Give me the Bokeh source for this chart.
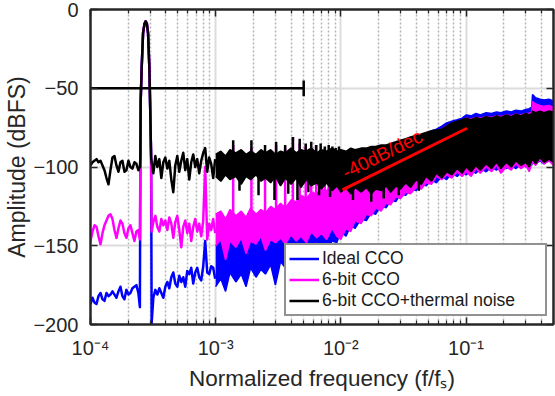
from bokeh.plotting import figure
from bokeh.models import FixedTicker, LogAxis, LinearAxis, Legend, LegendItem, Range1d, CustomJSTickFormatter
from bokeh.core.properties import value
from bokeh.embed import file_html
from bokeh.resources import INLINE

FONT = "Liberation Sans"
TXT = "#262626"
BLUE = "#0000ff"
MAGENTA = "#ff00ff"
BLACK = "#000000"

# ---------------- data ----------------
# sparse low-frequency part (including the signal tone), shared frequency axis
LOW_F = [
    1.000e-4, 1.037e-4, 1.076e-4, 1.117e-4, 1.158e-4, 1.202e-4, 1.247e-4, 1.293e-4, 1.342e-4, 1.392e-4,
    1.444e-4, 1.498e-4, 1.554e-4, 1.612e-4, 1.672e-4, 1.735e-4, 1.799e-4, 1.867e-4, 1.936e-4, 2.009e-4,
    2.084e-4, 2.162e-4, 2.243e-4, 2.326e-4, 2.413e-4, 2.481e-4,
    2.503e-4, 2.517e-4, 2.564e-4, 2.630e-4, 2.700e-4, 2.758e-4, 2.820e-4, 2.883e-4, 2.953e-4, 2.991e-4, 3.050e-4,
    3.080e-4, 3.177e-4, 3.296e-4, 3.420e-4, 3.548e-4, 3.680e-4, 3.818e-4, 3.960e-4, 4.109e-4, 4.262e-4,
    4.422e-4, 4.587e-4, 4.758e-4, 4.936e-4, 5.121e-4, 5.312e-4, 5.510e-4, 5.716e-4, 5.930e-4, 6.151e-4,
    6.381e-4, 6.620e-4, 6.867e-4, 7.124e-4, 7.390e-4, 7.666e-4, 7.953e-4, 8.250e-4, 8.558e-4, 8.878e-4,
    9.210e-4, 9.552e-4, 9.909e-4,
]
BLUE_LOW = [
    -187, -183, -186, -187, -182, -180, -184, -185, -180, -182,
    -181, -179, -181, -183, -179, -176, -182, -184, -178, -181,
    -180, -177, -176, -175, -180, -189,
    -94, -58, -37, -15, -9, -7.5, -9, -15, -37, -58, -94,
    -199, -183, -178, -181, -177, -180, -183, -176, -173, -177,
    -170, -167, -174, -176, -169, -173, -170, -176, -166, -168,
    -164, -174, -167, -164, -170, -172, -163, -147, -167, -168,
    -163, -164, -171,
]
MAG_LOW = [
    -147, -141, -137, -138, -144, -149, -142, -137, -134, -131,
    -130, -133, -140, -145, -139, -134, -136, -142, -145, -139,
    -137, -142, -147, -141, -140, -146,
    -94, -58, -37, -15, -9, -7.5, -9, -15, -37, -58, -94,
    -141, -135, -131, -138, -141, -133, -137, -134, -140, -132,
    -136, -145, -135, -131, -140, -151, -138, -134, -142, -136,
    -147, -138, -133, -141, -136, -144, -134, -100, -146, -136,
    -140, -133, -142,
]
BLK_LOW = [
    -99, -97, -96, -95, -97, -96, -99, -102, -107, -111,
    -102, -94, -93, -99, -103, -97, -96, -103, -102, -96,
    -100, -101, -97, -98, -102, -100,
    -94, -58, -37, -15, -9, -7.5, -9, -15, -37, -58, -94,
    -97, -104, -93, -100, -95, -107, -97, -94, -101, -96,
    -108, -116, -99, -93, -103, -96, -91, -102, -95, -108,
    -97, -92, -100, -95, -104, -96, -91, -88, -103, -94,
    -98, -107, -95,
]

# dense part: envelope of each noisy trace
BAND_F = [
    1.0e-3, 1.1e-3, 1.2e-3, 1.3e-3, 1.45e-3, 1.6e-3, 1.75e-3, 1.9e-3, 2.1e-3, 2.3e-3,
    2.5e-3, 2.75e-3, 3.0e-3, 3.3e-3, 3.6e-3, 4.0e-3, 4.4e-3, 4.8e-3, 5.3e-3, 5.8e-3,
    6.4e-3, 7.0e-3, 7.7e-3, 8.5e-3, 9.3e-3,
    1.0e-2, 1.1e-2, 1.2e-2, 1.3e-2, 1.45e-2, 1.6e-2, 1.75e-2, 1.9e-2, 2.1e-2, 2.3e-2,
    2.5e-2, 2.75e-2, 3.0e-2, 3.3e-2, 3.6e-2, 4.0e-2, 4.4e-2, 4.8e-2, 5.3e-2, 5.8e-2,
    6.4e-2, 7.0e-2, 7.7e-2, 8.5e-2, 9.3e-2,
    0.10, 0.11, 0.12, 0.13, 0.145, 0.16, 0.175, 0.19, 0.21, 0.23,
    0.25, 0.275, 0.30, 0.32, 0.335, 0.34, 0.36, 0.39, 0.42, 0.46, 0.50,
]
BLUE_HI = [
    -150, -147, -151, -144, -149, -145, -146, -141, -147, -142,
    -143, -139, -142, -137, -138, -134, -136, -131, -132, -128,
    -129, -125, -125, -121, -122,
    -114, -112, -110, -107, -105, -102, -100, -98, -96, -94,
    -92, -90, -88, -86, -84, -82, -80, -79, -77, -76,
    -74, -72, -71, -70, -69,
    -67, -67.5, -66, -67, -65.5, -66, -65, -65.5, -64.5, -65,
    -64, -64.5, -63.5, -63, -62, -54, -56, -57, -57.5, -57, -58,
]
BLUE_LO = [
    -176, -171, -179, -167, -173, -168, -176, -164, -170, -165,
    -168, -162, -175, -160, -164, -159, -161, -156, -160, -152,
    -155, -151, -153, -147, -148,
    -141, -144, -137, -139, -133, -134, -129, -130, -124, -126,
    -121, -122, -117, -118, -114, -115, -110, -112, -108, -110,
    -106, -108, -104, -106, -103,
    -105, -102, -104, -101, -103, -100, -102, -99, -101, -99,
    -101, -98, -100, -98, -99, -96, -98, -96, -98, -96, -98,
]
MAG_HI = [
    -130, -128, -133, -127, -131, -128, -132, -126, -130, -127,
    -129, -125, -127, -123, -126, -121, -122, -118, -120, -116,
    -117, -114, -115, -111, -111,
    -108, -107, -105, -104, -102, -100, -99, -97, -96, -94,
    -93, -91, -90, -88, -86, -84, -82, -81, -79, -78,
    -76, -74, -73, -72, -71,
    -69, -69.5, -68.5, -69, -68, -68.5, -67.5, -68, -67, -67.5,
    -66.5, -67, -66, -66, -65, -58.5, -60, -61, -61.5, -61, -62,
]
MAG_LO = [
    -150, -146, -159, -147, -151, -145, -155, -147, -149, -144,
    -153, -146, -148, -145, -149, -143, -147, -144, -148, -141,
    -145, -142, -146, -139, -144,
    -146, -139, -141, -134, -136, -130, -131, -126, -128, -123,
    -124, -119, -120, -116, -117, -113, -114, -110, -111, -106,
    -108, -105, -107, -103, -106,
    -103, -106, -101, -104, -100, -103, -99, -104, -100, -102,
    -98, -101, -99, -103, -98, -97, -99, -95, -98, -96, -99,
]
BLK_HI = [
    -92, -90, -93, -89, -91, -89, -92, -90, -92, -89,
    -91, -89, -92, -90, -91, -88, -91, -89, -90, -88,
    -91, -89, -90, -88, -90,
    -89, -90, -88, -89, -88, -88, -87, -87, -86, -86,
    -85, -84, -83, -82, -81, -80, -79, -78, -77, -76.5,
    -76, -74, -72, -71, -70,
    -69, -70, -68.5, -69.5, -68, -69, -67.5, -68.5, -67, -68,
    -66.5, -67.5, -66, -67, -66, -64.5, -65.5, -64.5, -65.5, -64.5, -65,
]
BLK_LO = [
    -106, -109, -105, -108, -106, -111, -106, -108, -105, -109,
    -107, -110, -106, -112, -107, -111, -107, -113, -108, -112,
    -110, -114, -110, -115, -112,
    -116, -113, -117, -113, -116, -113, -117, -114, -115, -112,
    -116, -112, -114, -110, -113, -108, -111, -106, -109, -104,
    -107, -103, -105, -101, -104,
    -100, -103, -99, -102, -98, -101, -97, -101, -97, -100,
    -96, -99, -97, -100, -96, -95, -98, -94, -97, -95, -97,
]

# harmonic spurs of the 6-bit quantiser
SPUR_F = [1.38e-3, 1.93e-3, 2.48e-3, 3.04e-3, 3.59e-3, 4.14e-3, 4.69e-3, 5.24e-3,
          5.80e-3, 6.35e-3, 6.90e-3, 7.45e-3, 8.00e-3, 8.56e-3, 9.10e-3, 9.66e-3]
MAG_SPUR = [-86, -88, -90, -86, -88, -81, -85, -87, -88, -86, -89, -88, -90, -89, -91, -90]
BLK_SPUR = [-83, -83, -86, -84, -86, -81, -82, -85, -84, -86, -85, -87, -86, -87, -88, -87]
BLUE_SPUR_F = [1.38e-3]
BLUE_SPUR = [-134]
BLK_DIP_F = [1.55e-3, 2.2e-3, 2.95e-3, 3.8e-3, 4.5e-3, 5.5e-3, 6.7e-3, 8.2e-3,
             1.25e-2, 1.75e-2, 2.2e-2, 2.9e-2, 4.2e-2]
BLK_DIP = [-115, -118, -121, -117, -121, -116, -118, -119, -121, -122, -120, -118, -115]

# annotations
MARK_F = [1e-4, 5.05e-3]
MARK_DB = [-50, -50]
MARK_CAP = [-45, -55]
SLOPE_F = [0.0103, 0.102]
SLOPE_DB = [-114.5, -75.4]
SLOPE_TXT_F = 0.0105
SLOPE_TXT_DB = -104.0
SLOPE_TXT = "-40dB/dec"

X_MAJOR = [1e-4, 1e-3, 1e-2, 1e-1]
X_LABELS = ["10\u207b\u2074", "10\u207b\u00b3", "10\u207b\u00b2", "10\u207b\u00b9"]
X_MINOR = [m * d for d in X_MAJOR for m in range(2, 10) if m * d <= 0.5]
Y_TICKS = [-200, -150, -100, -50, 0]
SERIES = ["Ideal CCO", "6-bit CCO", "6-bit CCO+thermal noise"]

# ---------------- figure ----------------
p = figure(width=555, height=396, x_axis_type="log",
           x_range=Range1d(1e-4, 0.5), y_range=Range1d(-200, 0),
           output_backend="svg", toolbar_location=None,
           min_border_left=90, min_border_right=2, min_border_top=9, min_border_bottom=72)
p.background_fill_color = "white"
p.border_fill_color = "white"
p.outline_line_color = TXT
p.outline_line_width = 2

xt = FixedTicker(ticks=X_MAJOR, minor_ticks=X_MINOR)
yt = FixedTicker(ticks=Y_TICKS)

def style_axis(ax, labels=True):
    ax.axis_line_color = TXT
    ax.axis_line_width = 2
    ax.major_tick_in = 7
    ax.major_tick_out = 0
    ax.minor_tick_in = 4
    ax.minor_tick_out = 0
    ax.major_tick_line_color = TXT
    ax.minor_tick_line_color = TXT
    ax.major_tick_line_width = 1.5
    ax.minor_tick_line_width = 1.2
    ax.major_label_text_font = FONT
    ax.major_label_text_color = TXT
    if labels:
        ax.major_label_text_font_size = "20px"
    else:
        ax.formatter = CustomJSTickFormatter(code="return ''")
        ax.major_label_text_font_size = "1px"
        ax.major_label_standoff = 0

xa = p.below[0]
xa.ticker = xt
xa.major_label_overrides = dict(zip(X_MAJOR, X_LABELS))
style_axis(xa)
xa.major_label_standoff = 12
xa.axis_label = "Normalized frequency (f/f\u209b)"
xa.axis_label_text_font = FONT
xa.axis_label_text_font_size = "22.5px"
xa.axis_label_text_font_style = "normal"
xa.axis_label_text_color = TXT
xa.axis_label_standoff = 4

ya = p.left[0]
ya.ticker = yt
style_axis(ya)
ya.minor_tick_in = 0
ya.major_label_standoff = 12
ya.axis_label = "Amplitude (dBFS)"
ya.axis_label_text_font = FONT
ya.axis_label_text_font_size = "23px"
ya.axis_label_text_font_style = "normal"
ya.axis_label_text_color = TXT
ya.axis_label_standoff = 0

top = LogAxis(ticker=xt)
style_axis(top, labels=False)
p.add_layout(top, "above")
right = LinearAxis(ticker=yt)
style_axis(right, labels=False)
right.minor_tick_in = 0
p.add_layout(right, "right")

p.xgrid.ticker = xt
p.xgrid.grid_line_color = "#dcdcdc"
p.xgrid.grid_line_width = 2
p.xgrid.minor_grid_line_color = "#b4b4b4"
p.xgrid.minor_grid_line_width = 1.5
p.xgrid.minor_grid_line_dash = "2 2"
p.ygrid.ticker = yt
p.ygrid.grid_line_color = "#dcdcdc"
p.ygrid.grid_line_width = 2

LW = 2.5

def draw_series(color, low, hi, lo, spur_f, spur_db, spur_base):
    p.varea(x=BAND_F, y1=lo, y2=hi, fill_color=color)
    p.line(BAND_F, hi, line_color=color, line_width=1.5)
    p.line(BAND_F, lo, line_color=color, line_width=1.5)
    p.segment(x0=spur_f, y0=[spur_base] * len(spur_f), x1=spur_f, y1=spur_db,
              line_color=color, line_width=LW)
    return p.line(LOW_F, low, line_color=color, line_width=LW, line_join="round")

r_blue = draw_series(BLUE, BLUE_LOW, BLUE_HI, BLUE_LO, BLUE_SPUR_F, BLUE_SPUR, -165)
r_mag = draw_series(MAGENTA, MAG_LOW, MAG_HI, MAG_LO, SPUR_F, MAG_SPUR, -135)
r_blk = draw_series(BLACK, BLK_LOW, BLK_HI, BLK_LO, SPUR_F, BLK_SPUR, -100)
p.segment(x0=BLK_DIP_F, y0=[-104] * len(BLK_DIP_F), x1=BLK_DIP_F, y1=BLK_DIP,
          line_color=BLACK, line_width=LW)

# -50 dBFS marker
p.line(MARK_F, MARK_DB, line_color=BLACK, line_width=LW)
p.segment(x0=[MARK_F[1]], y0=[MARK_CAP[0]], x1=[MARK_F[1]], y1=[MARK_CAP[1]],
          line_color=BLACK, line_width=LW)

# -40 dB/dec slope
p.line(SLOPE_F, SLOPE_DB, line_color="#ff0000", line_width=3)
p.text(x=[SLOPE_TXT_F], y=[SLOPE_TXT_DB], text=[SLOPE_TXT], angle=0.457,
       text_font=value(FONT), text_font_size="19px", text_color="#ff0000",
       text_align="left", text_baseline="alphabetic")

legend = Legend(items=[LegendItem(label=SERIES[0], renderers=[r_blue]),
                       LegendItem(label=SERIES[1], renderers=[r_mag]),
                       LegendItem(label=SERIES[2], renderers=[r_blk])],
                location=(194, 8))
legend.label_text_font = FONT
legend.label_text_font_size = "17.5px"
legend.label_text_color = "#1a1a1a"
legend.border_line_color = TXT
legend.border_line_width = 2
legend.background_fill_color = "white"
legend.background_fill_alpha = 1
legend.glyph_width = 30
legend.glyph_height = 21
legend.label_height = 21
legend.label_width = 220
legend.label_standoff = 3
legend.padding = 3
legend.spacing = 0
legend.margin = 0
p.add_layout(legend)

open("out.html", "w").write(file_html(p, INLINE))
